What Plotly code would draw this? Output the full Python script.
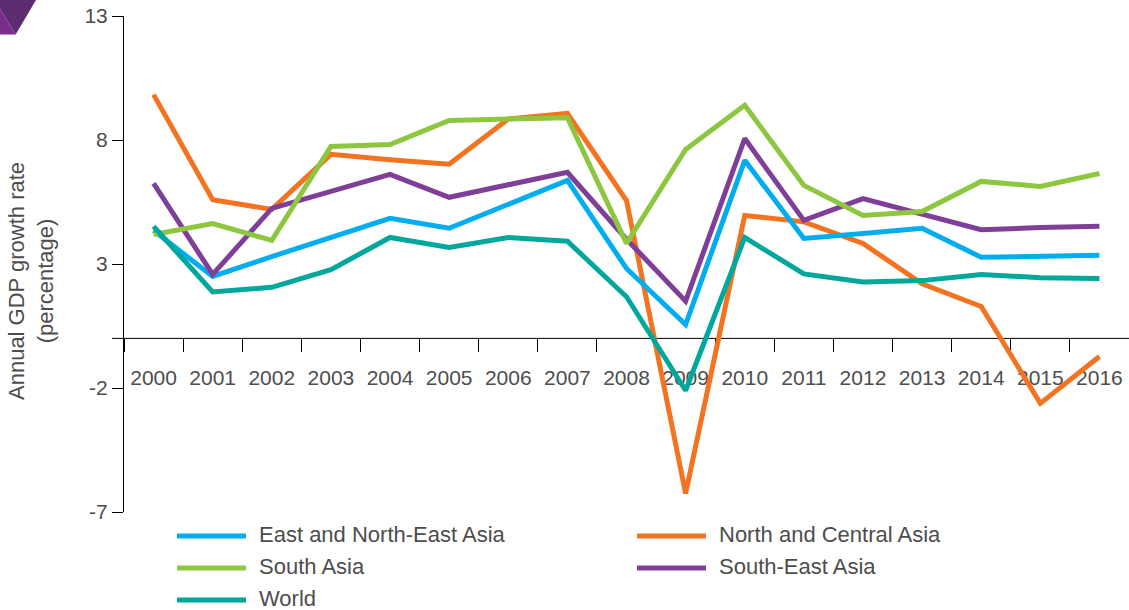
import plotly.graph_objects as go

years = [str(y) for y in range(2000, 2017)]

east_ne_asia = [4.35, 2.5, 3.3, 4.07, 4.84, 4.44, 5.4, 6.37, 2.82, 0.56, 7.18, 4.03, 4.23, 4.44, 3.27, 3.3, 3.35]
north_central_asia = [9.83, 5.59, 5.2, 7.42, 7.2, 7.02, 8.85, 9.07, 5.56, -6.25, 4.96, 4.7, 3.83, 2.2, 1.29, -2.62, -0.73]
south_asia = [4.19, 4.63, 3.95, 7.74, 7.82, 8.79, 8.85, 8.9, 3.83, 7.62, 9.4, 6.17, 4.96, 5.12, 6.33, 6.13, 6.65]
south_east_asia = [6.25, 2.58, 5.24, 5.9, 6.61, 5.69, 6.17, 6.7, 4.0, 1.5, 8.06, 4.76, 5.64, 5.03, 4.38, 4.47, 4.52]
world = [4.52, 1.87, 2.06, 2.77, 4.07, 3.67, 4.07, 3.92, 1.68, -2.1, 4.07, 2.6, 2.27, 2.33, 2.58, 2.45, 2.42]

series_names = ["East and North-East Asia", "North and Central Asia", "South Asia", "South-East Asia", "World"]
series_values = [east_ne_asia, north_central_asia, south_asia, south_east_asia, world]
series_colors = ["#00AEEF", "#F47321", "#8DC63F", "#7F3F98", "#00A79D"]
draw_order = [1, 0, 3, 2, 4]

y_ticks = [-7, -2, 3, 8, 13]
y_tick_text = [str(v) for v in y_ticks]
y_min, y_max = -7, 13

W, H = 1129, 610
ML, MR, MT, MB = 124, 0, 16, 98
PW, PH = W - ML - MR, H - MT - MB

def px_x(p):
    return (p - ML) / PW

def px_y(p):
    return (H - MB - p) / PH

TEXT = "#4d4d4d"
FONT = "Liberation Sans, Arial, Helvetica, sans-serif"

fig = go.Figure()
for i in draw_order:
    fig.add_trace(go.Scatter(
        x=years, y=series_values[i], name=series_names[i], mode="lines",
        line=dict(color=series_colors[i], width=5), showlegend=False,
    ))

zero_pos = (0 - y_min) / (y_max - y_min)

fig.update_layout(
    width=W, height=H,
    margin=dict(l=ML, r=MR, t=MT, b=MB, pad=0),
    paper_bgcolor="white", plot_bgcolor="white",
    font=dict(family=FONT, size=21, color=TEXT),
    showlegend=False,
    xaxis=dict(
        type="category", range=[-0.5, len(years) - 0.5],
        anchor="free", position=zero_pos,
        showline=False, showgrid=False, zeroline=False,
        ticks="outside", tickson="boundaries", ticklen=13, tickcolor="black", tickwidth=1,
        tickfont=dict(size=21, color=TEXT), ticklabelstandoff=25,
        layer="below traces",
    ),
    yaxis=dict(
        range=[y_min, y_max], tickvals=y_ticks, ticktext=y_tick_text,
        showline=True, linecolor="black", linewidth=1,
        showgrid=False, zeroline=False,
        ticks="outside", ticklen=11, tickcolor="black", tickwidth=1,
        tickfont=dict(size=21, color=TEXT),
        layer="below traces",
    ),
)

shapes = []
shapes.append(dict(type="line", xref="paper", yref="y", x0=px_x(112), x1=1, y0=0, y1=0,
                   line=dict(color="black", width=1), layer="below"))

def pth(points):
    return "M " + " L ".join(f"{px_x(a)},{px_y(b)}" for a, b in points) + " Z"

shapes.append(dict(type="path", xref="paper", yref="paper",
                   path=pth([(0, 0), (36, 0), (15.7, 34.5), (0, 8.5)]),
                   fillcolor="#5b2c6f", line=dict(width=0)))
shapes.append(dict(type="path", xref="paper", yref="paper",
                   path=pth([(0, 8.5), (15.7, 34.5), (0, 34.5)]),
                   fillcolor="#7b2d8e", line=dict(width=0)))

annotations = []
annotations.append(dict(text="Annual GDP growth rate<br>(percentage)", textangle=-90,
                        xref="paper", yref="paper", x=px_x(31), y=px_y(281),
                        xanchor="center", yanchor="middle", showarrow=False,
                        font=dict(size=22, color=TEXT)))

col_x = [177, 637]
row_y = [536, 568, 600]
line_len = 69
for k, i in enumerate(range(len(series_names))):
    cx = col_x[k % 2]
    ry = row_y[k // 2]
    shapes.append(dict(type="line", xref="paper", yref="paper",
                       x0=px_x(cx), x1=px_x(cx + line_len), y0=px_y(ry), y1=px_y(ry),
                       line=dict(color=series_colors[i], width=5)))
    annotations.append(dict(text=series_names[i], xref="paper", yref="paper",
                            x=px_x(cx + line_len + 11), y=px_y(ry - 2),
                            xanchor="left", yanchor="middle", showarrow=False,
                            font=dict(size=22, color=TEXT)))

fig.update_layout(shapes=shapes, annotations=annotations)
fig.write_html(
    "out.html",
    config={"displayModeBar": False},
    post_script="document.body.style.margin='0';document.body.style.overflow='hidden';",
)
